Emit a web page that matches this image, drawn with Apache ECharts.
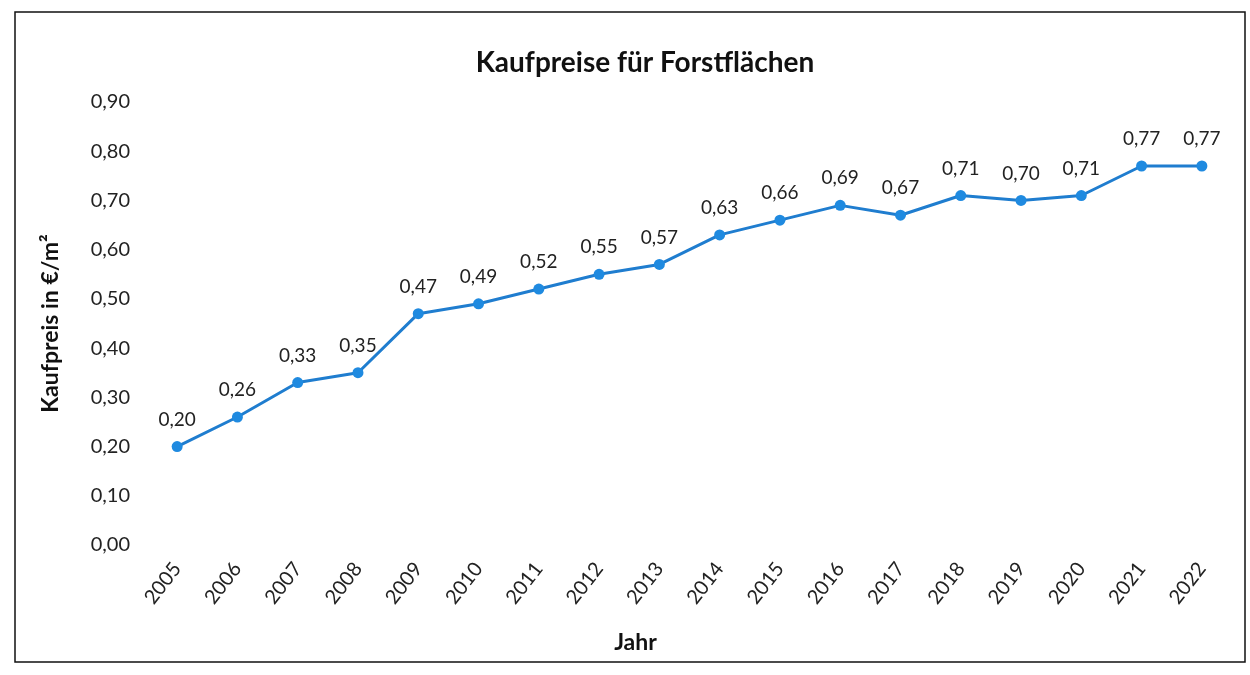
<!DOCTYPE html>
<html>
<head>
<meta charset="utf-8">
<script src="https://cdn.jsdelivr.net/npm/echarts@6/dist/echarts.min.js"></script>
<style>
  html, body { margin: 0; padding: 0; background: #fff; }
  #main { width: 1250px; height: 675px; }
</style>
</head>
<body>
<div id="main"></div>
<script>
// Jahre (Kategorien)
const years = ["2005", "2006", "2007", "2008", "2009", "2010", "2011", "2012", "2013",
  "2014", "2015", "2016", "2017", "2018", "2019", "2020", "2021", "2022"];
// Kaufpreis in €/m²
const prices = [0.20, 0.26, 0.33, 0.35, 0.47, 0.49, 0.52, 0.55, 0.57,
  0.63, 0.66, 0.69, 0.67, 0.71, 0.70, 0.71, 0.77, 0.77];

const fmt = v => Number(v).toFixed(2).replace(".", ",");
const font = "Lato, 'Open Sans', sans-serif";

const chart = echarts.init(document.getElementById("main"));
chart.setOption({
  backgroundColor: "#fff",
  textStyle: { fontFamily: font },
  title: {
    text: "Kaufpreise für Forstflächen",
    left: 640,
    top: 44,
    textAlign: "center",
    textStyle: { fontSize: 28, fontWeight: "bold", color: "#111", fontFamily: font }
  },
  graphic: [{
    type: "rect",
    shape: { x: 15, y: 12, width: 1230, height: 650 },
    style: { fill: "none", stroke: "#111", lineWidth: 1.5 },
    silent: true
  }],
  grid: { left: 147, right: 18, top: 102, bottom: 130 },
  xAxis: {
    type: "category",
    data: years,
    name: "Jahr",
    nameLocation: "middle",
    nameGap: 86,
    nameTextStyle: {
      fontSize: 23, fontWeight: "bold", color: "#111", fontFamily: font,
      padding: [0, 108, 0, 0]
    },
    axisLine: { show: false },
    axisTick: { show: false },
    axisLabel: { rotate: 52, fontSize: 20, color: "#222", margin: 20, fontFamily: font }
  },
  yAxis: {
    type: "value",
    min: 0,
    max: 0.9,
    interval: 0.1,
    name: "Kaufpreis in €/m²",
    nameLocation: "middle",
    nameGap: 85,
    nameTextStyle: { fontSize: 23, fontWeight: "bold", color: "#111", fontFamily: font },
    splitLine: { show: false },
    axisLine: { show: false },
    axisTick: { show: false },
    axisLabel: { fontSize: 20, color: "#222", margin: 17, formatter: fmt, fontFamily: font }
  },
  series: [{
    type: "line",
    data: prices,
    symbol: "circle",
    symbolSize: 11,
    lineStyle: { color: "#1f7dcf", width: 3 },
    itemStyle: { color: "#1f8ae0" },
    label: {
      show: true,
      position: "top",
      distance: 12,
      fontSize: 19,
      color: "#222",
      fontFamily: font,
      formatter: p => fmt(p.value)
    }
  }]
});
</script>
</body>
</html>
